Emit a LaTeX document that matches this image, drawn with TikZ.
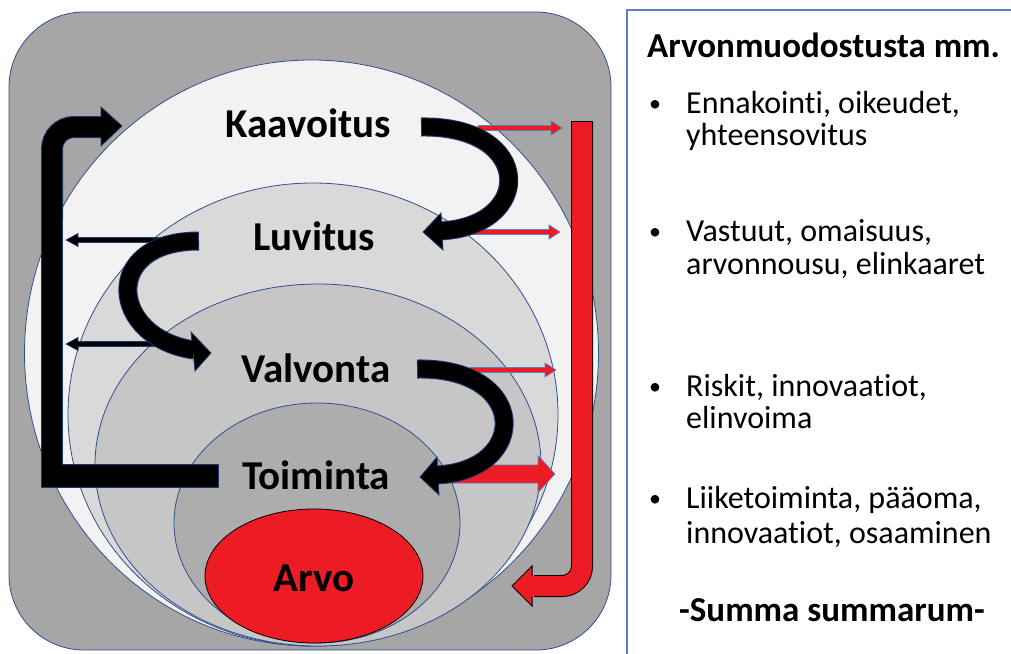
\documentclass[tikz,border=0pt]{standalone}
\usepackage{fontspec}
\setmainfont{Carlito}[Ligatures={NoCommon,NoRare,NoContextual}]
\definecolor{boxgray}{HTML}{A6A6A6}
\definecolor{edgeblue}{HTML}{2F4F8F}
\definecolor{panelblue}{HTML}{5B7FC7}
\definecolor{eone}{HTML}{F2F2F2}
\definecolor{etwo}{HTML}{D9D9D9}
\definecolor{ethree}{HTML}{C6C6C6}
\definecolor{efour}{HTML}{ADADAD}
\definecolor{arvored}{HTML}{ED1C24}
\definecolor{navyline}{HTML}{1F3A70}
\newcommand{\harrow}[8]{%
  \filldraw[fill=#1, draw=#2, line width=0.6pt, line join=miter]
    ({#3},{#5-#6}) -- ({#4-(#8)},{#5-#6}) -- ({#4-(#8)},{#5-#7}) -- ({#4},{#5})
    -- ({#4-(#8)},{#5+#7}) -- ({#4-(#8)},{#5+#6}) -- ({#3},{#5+#6}) -- cycle;}
\tikzset{
  ring/.style={draw=edgeblue, line width=0.8pt},
  lbl/.style={font=\fontsize{41}{41}\selectfont\bfseries, inner sep=0pt, anchor=base},
  txt/.style={font=\fontsize{32}{32}\selectfont, inner sep=0pt, anchor=base west},
  bul/.style={font=\fontsize{24}{24}\selectfont, inner sep=0pt, anchor=base west},
  btxt/.style={font=\fontsize{35}{35}\selectfont\bfseries, inner sep=0pt, anchor=base west},
  headb/.style={fill=black, draw=navyline, line width=0.8pt, line join=miter},
}
\begin{document}
\begin{tikzpicture}[x=1pt,y=-1pt]
\useasboundingbox (0,0) rectangle (1011,653);
\clip (0,0) rectangle (1011,653);
\fill[white] (0,0) rectangle (1011,653);
% outer rounded box
\filldraw[fill=boxgray, draw=edgeblue, line width=0.8pt, rounded corners=75pt] (9,12) rectangle (611,650);
% nested ellipses
\filldraw[ring, fill=eone] (311.5,353) ellipse [x radius=287pt, y radius=293pt];
\filldraw[ring, fill=etwo] (313,414.5) ellipse [x radius=245pt, y radius=231.5pt];
\filldraw[ring, fill=ethree] (318,465) ellipse [x radius=223pt, y radius=181pt];
\filldraw[ring, fill=efour] (317,523) ellipse [x radius=143pt, y radius=120pt];
\filldraw[draw=black, line width=0.8pt, fill=arvored] (314,576) ellipse [x radius=109pt, y radius=67pt];

% labels
\node[lbl] (kaav) at (308,137) {Kaavoitus};
\node[lbl] (luv) at (314,250) {Luvitus};
\node[lbl] (valv) at (316,382) {Valvonta};
\node[lbl] (toim) at (316,489) {Toiminta};
\node[lbl] (arvo) at (314,591) {Arvo};

% thin red arrows to the right
\harrow{arvored}{panelblue}{478}{562}{128}{2.5}{7}{11}
\harrow{arvored}{panelblue}{470}{560}{232}{2.5}{7}{11}
\harrow{arvored}{panelblue}{470}{556}{370}{2.5}{7}{11}
\harrow{arvored}{panelblue}{447}{555}{474}{9}{18.5}{17}

% thin left arrows
\harrow{black}{navyline}{190}{66}{240}{2.5}{6.5}{-12}
\harrow{black}{navyline}{195}{66}{344}{2.5}{6.5}{-12}

% big L-shaped black arrow
\draw[navyline, line width=22pt] (52,477) -- (52,200);
\draw[navyline, line width=22pt, rounded corners=22pt] (52,220) -- (52,127) -- (104,127);
\draw[navyline, line width=24pt] (41,476) -- (219,476);
\filldraw[headb] (101,107) -- (122,126) -- (101,146) -- cycle;
\draw[black, line width=20pt] (52,477) -- (52,200);
\draw[black, line width=20pt, rounded corners=22pt] (52,220) -- (52,127) -- (105,127);
\draw[black, line width=22pt] (42,476) -- (218,476);

% curved arrow Kaavoitus -> Luvitus
\draw[navyline, line width=19pt] (421,127) .. controls (535,125) and (535,228) .. (438,231);
\filldraw[headb] (441,213) -- (423,232) -- (443,250) -- cycle;
\draw[black, line width=17pt] (422,127) .. controls (535,125) and (535,228) .. (438,231);

% curved arrow Luvitus -> Valvonta
\draw[navyline, line width=19pt] (199,241) .. controls (100,241) and (110,338) .. (194,350);
\filldraw[headb] (191,332) -- (211,353) -- (195,371) -- cycle;
\draw[black, line width=17pt] (198,241) .. controls (100,241) and (110,338) .. (194,350);

% curved arrow Valvonta -> Toiminta
\draw[navyline, line width=19pt] (417,369) .. controls (530,367) and (530,472) .. (435,475);
\filldraw[headb] (437,457) -- (420,477) -- (439,495) -- cycle;
\draw[black, line width=17pt] (418,369) .. controls (530,367) and (530,472) .. (435,475);

% big red return arrow
\draw[black, line width=22pt, rounded corners=20pt] (582,121) -- (582,586) -- (534,586);
\filldraw[fill=arvored, draw=black, line width=1pt, line join=miter] (532,566) -- (512,586) -- (532,606) -- cycle;
\draw[arvored, line width=20pt, rounded corners=20pt] (582,122) -- (582,586) -- (529,586);

% right panel
\filldraw[fill=white, draw=panelblue, line width=1.2pt] (627,10) rectangle (1030,670);
\node[btxt] (title) at (647,57) {Arvonmuodostusta mm.};
\node[bul] (b1) at (649,111) {•};
\node[txt] (t1a) at (686,113) {Ennakointi, oikeudet,};
\node[txt] (t1b) at (686,145) {yhteensovitus};
\node[bul] (b2) at (649,239) {•};
\node[txt] (t2a) at (686,241) {Vastuut, omaisuus,};
\node[txt] (t2b) at (686,274) {arvonnousu, elinkaaret};
\node[bul] (b3) at (649,394) {•};
\node[txt] (t3a) at (686,396) {Riskit, innovaatiot,};
\node[txt] (t3b) at (686,428) {elinvoima};
\node[bul] (b4) at (649,506) {•};
\node[txt] (t4a) at (686,508) {Liiketoiminta, pääoma,};
\node[txt] (t4b) at (686,543) {innovaatiot, osaaminen};
\node[btxt] (summa) at (679,621) {-Summa summarum-};
\end{tikzpicture}
\end{document}
